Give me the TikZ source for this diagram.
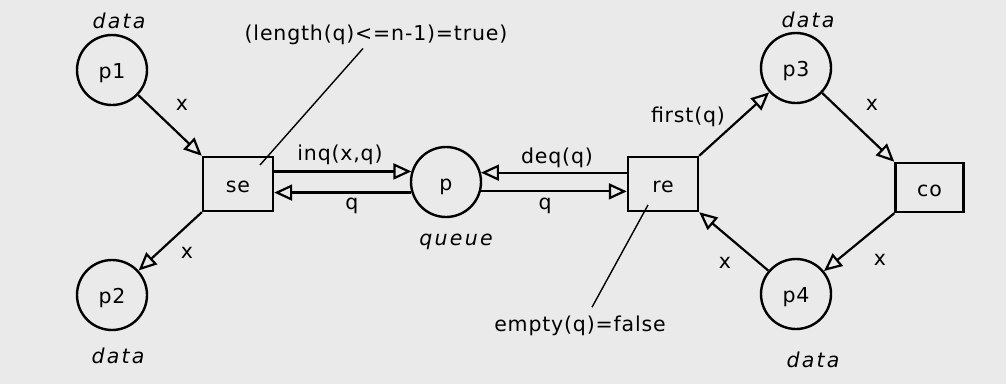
\documentclass[tikz,border=0pt]{standalone}
\usepackage{fontspec}
\setmainfont{DejaVu Sans}[LetterSpace=4]
\newfontfamily\datafont{DejaVu Sans}[LetterSpace=11]
\usetikzlibrary{arrows.meta}
\definecolor{bg}{RGB}{234,234,234}
\begin{document}
\begin{tikzpicture}[x=1pt,y=-1pt,
  every node/.style={font=\fontsize{20.5}{22}\selectfont},
  place/.style={draw, circle, line width=2.4pt, minimum size=70pt, inner sep=0pt, text height=17pt, text depth=0pt},
  trans/.style={draw, rectangle, line width=2.4pt, minimum width=70pt, minimum height=54pt, inner sep=0pt, text height=17pt, text depth=0pt},
  arc/.style={line width=2.2pt, -{Triangle[open, length=18pt, width=16pt]}},
  lbl/.style={anchor=base, inner sep=1pt},
  typ/.style={anchor=base, inner sep=1pt, font=\datafont\itshape\fontsize{20.5}{22}\selectfont},
  guardline/.style={line width=1.4pt}]
\fill[bg] (0,0) rectangle (1006,384);
\useasboundingbox (0,0) rectangle (1006,384);

% places
\node[place] (p1) at (112,70) {p1};
\node[place] (p2) at (112,295) {p2};
\node[place] (p)  at (446,182) {p};
\node[place] (p3) at (796,68) {p3};
\node[place] (p4) at (796,294) {p4};
% transitions
\node[trans] (se) at (238,184) {se};
\node[trans] (re) at (663,184) {re};
\node[trans, minimum width=68pt, minimum height=49pt] (co) at (929.5,187.5) {co};

% type labels
\node[typ] (d1) at (119,28) {data};
\node[typ] (d2) at (118,363) {data};
\node[typ] (d3) at (808,27) {data};
\node[typ] (d4) at (813,367) {data};
\node[typ] (qt) at (456,245) {queue};

% arcs
\draw[arc] (p1) -- (se.north west);
\draw[arc] (se.south west) -- (p2);
\draw[arc] (se.east |- p.163) -- (p.163);
\draw[arc] (p.197) -- (se.east |- p.197);
\draw[arc] (re.west |- p.15) -- (p.15);
\draw[arc] (p.-15) -- (re.west |- p.-15);
\draw[arc] (re.north east) -- (p3);
\draw[arc] (p3) -- (co.north west);
\draw[arc] (co.south west) -- (p4);
\draw[arc] (p4) -- (re.south east);

% arc labels
\node[lbl] (x1) at (182,110) {x};
\node[lbl] (x2) at (187,258) {x};
\node[lbl] (x3) at (872,110) {x};
\node[lbl] (x4) at (880,265) {x};
\node[lbl] (x5) at (725,268) {x};
\node[lbl] (inq) at (340,160) {inq(x,q)};
\node[lbl] (q1) at (352,209) {q};
\node[lbl] (deq) at (557,163) {deq(q)};
\node[lbl] (q2) at (545,209) {q};
\node[lbl] (fq) at (688,122) {first(q)};

% guards
\node[lbl] (guard1) at (376,40) {(length(q)<=n-1)=true)};
\node[lbl] (guard2) at (580,331) {empty(q)=false};
\coordinate (g1) at (260,165);
\coordinate (g2) at (648,205);
\draw[guardline] ([xshift=-13pt,yshift=-3pt]guard1.south) -- (g1);
\draw[guardline] ([xshift=12pt,yshift=7pt]guard2.north) -- (g2);
\end{tikzpicture}
\end{document}
